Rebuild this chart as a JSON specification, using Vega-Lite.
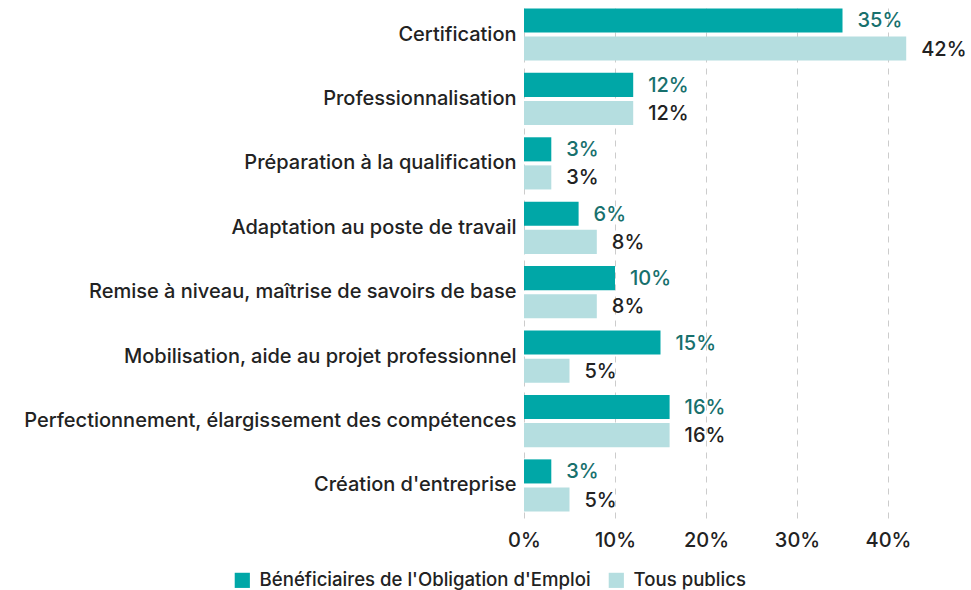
{
  "$schema": "https://vega.github.io/schema/vega-lite/v6.json",
  "width": 440,
  "height": 516,
  "autosize": {"type": "none"},
  "padding": {"left": 524, "top": 2, "right": 7, "bottom": 72},
  "background": "white",
  "config": {
    "font": "Inter",
    "view": {"stroke": null},
    "axis": {"labelFont": "Inter", "labelFontWeight": 500, "labelColor": "#222222"}
  },
  "data": {
    "values": [
      {"cat": "Certification", "serie": "Bénéficiaires de l'Obligation d'Emploi", "v": 0.35},
      {"cat": "Certification", "serie": "Tous publics", "v": 0.42},
      {"cat": "Professionnalisation", "serie": "Bénéficiaires de l'Obligation d'Emploi", "v": 0.12},
      {"cat": "Professionnalisation", "serie": "Tous publics", "v": 0.12},
      {"cat": "Préparation à la qualification", "serie": "Bénéficiaires de l'Obligation d'Emploi", "v": 0.03},
      {"cat": "Préparation à la qualification", "serie": "Tous publics", "v": 0.03},
      {"cat": "Adaptation au poste de travail", "serie": "Bénéficiaires de l'Obligation d'Emploi", "v": 0.06},
      {"cat": "Adaptation au poste de travail", "serie": "Tous publics", "v": 0.08},
      {"cat": "Remise à niveau, maîtrise de savoirs de base", "serie": "Bénéficiaires de l'Obligation d'Emploi", "v": 0.10},
      {"cat": "Remise à niveau, maîtrise de savoirs de base", "serie": "Tous publics", "v": 0.08},
      {"cat": "Mobilisation, aide au projet professionnel", "serie": "Bénéficiaires de l'Obligation d'Emploi", "v": 0.15},
      {"cat": "Mobilisation, aide au projet professionnel", "serie": "Tous publics", "v": 0.05},
      {"cat": "Perfectionnement, élargissement des compétences", "serie": "Bénéficiaires de l'Obligation d'Emploi", "v": 0.16},
      {"cat": "Perfectionnement, élargissement des compétences", "serie": "Tous publics", "v": 0.16},
      {"cat": "Création d'entreprise", "serie": "Bénéficiaires de l'Obligation d'Emploi", "v": 0.03},
      {"cat": "Création d'entreprise", "serie": "Tous publics", "v": 0.05}
    ]
  },
  "encoding": {
    "y": {
      "field": "cat", "type": "nominal", "sort": null, "title": null,
      "scale": {"paddingInner": 0.19, "paddingOuter": 0.1},
      "axis": {"ticks": false, "domain": false, "labelFontSize": 20, "labelPadding": 8, "labelLimit": 600}
    },
    "yOffset": {"field": "serie", "type": "nominal", "sort": null, "scale": {"paddingInner": 0.143}},
    "x": {
      "field": "v", "type": "quantitative", "title": null,
      "scale": {"domain": [0, 0.4835], "nice": false},
      "axis": {
        "values": [0, 0.1, 0.2, 0.3, 0.4], "format": ".0%", "domain": false, "ticks": false, "labelFlush": false,
        "labelFontSize": 20, "labelPadding": 12, "grid": true, "gridDash": [6, 6], "gridColor": "#cccccc", "gridWidth": 1
      }
    }
  },
  "layer": [
    {
      "mark": {"type": "bar"},
      "encoding": {
        "color": {
          "field": "serie", "type": "nominal", "sort": null,
          "scale": {"range": ["#00A7A7", "#B5DEE0"]},
          "legend": {
            "title": null, "orient": "none", "direction": "horizontal", "legendX": -291, "legendY": 569,
            "symbolType": "square", "symbolSize": 230, "symbolStrokeWidth": 0, "symbolOpacity": 1,
            "labelFontSize": 18.6, "labelFont": "Inter", "labelFontWeight": 500, "labelColor": "#222222",
            "labelOffset": 8, "columnPadding": 16, "labelLimit": 500
          }
        }
      }
    },
    {
      "mark": {"type": "text", "align": "left", "baseline": "middle", "dx": 15, "dy": 1, "fontSize": 20, "fontWeight": 500},
      "encoding": {
        "text": {"field": "v", "type": "quantitative", "format": ".0%"},
        "color": {
          "condition": {"test": "datum.serie === 'Tous publics'", "value": "#222222"},
          "value": "#17706D"
        }
      }
    }
  ]
}
